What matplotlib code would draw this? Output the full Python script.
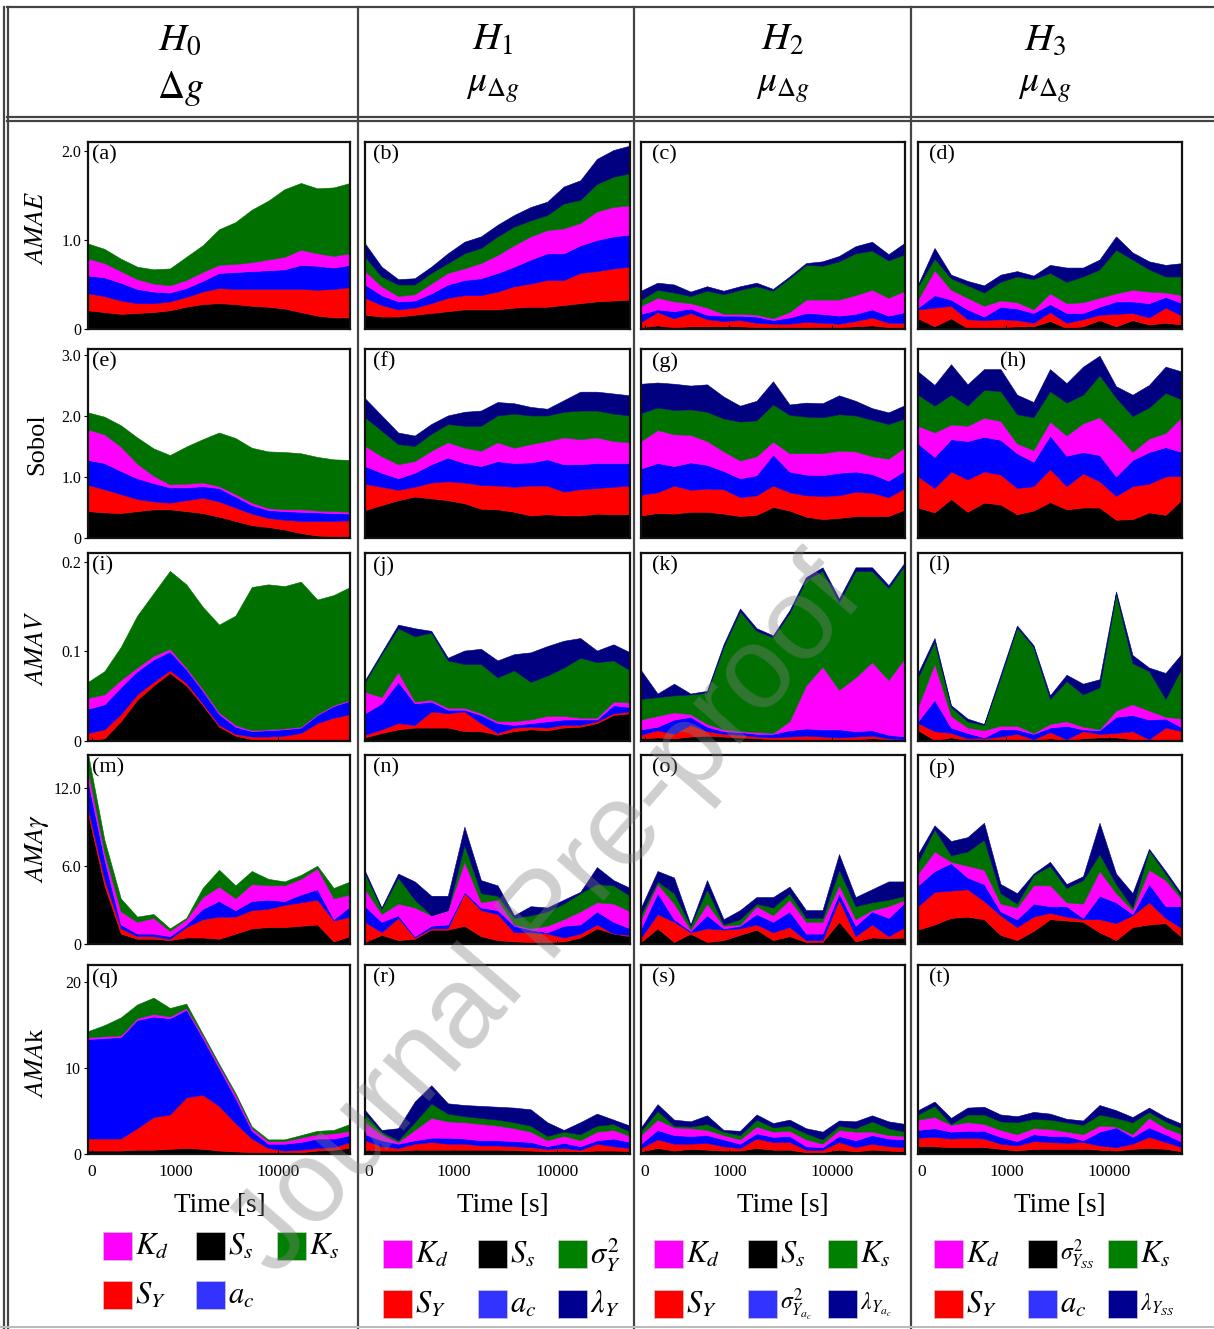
import numpy as np
import matplotlib
matplotlib.use("Agg")
import matplotlib.pyplot as plt
from matplotlib.patches import Rectangle
from matplotlib.lines import Line2D

plt.rcParams['mathtext.fontset'] = 'stix'
plt.rcParams['font.family'] = ['Liberation Serif', 'DejaVu Serif']

# ---------------- data (cumulative upper edge of each stacked layer) -------------
# layer order bottom -> top: Ss, SY, ac, Kd, Ks, lambda
steps = np.arange(17)
x_tick_labels = ['0', '1000', '10000']
x_tick_steps = [0.24, 5.36, 11.6]

a_edges = [[0.21,0.19,0.17,0.18,0.19,0.21,0.25,0.28,0.29,0.28,0.26,0.25,0.23,0.19,0.15,0.13,0.13],
           [0.40,0.37,0.32,0.29,0.29,0.31,0.36,0.42,0.46,0.45,0.45,0.45,0.45,0.45,0.44,0.45,0.47],
           [0.60,0.58,0.52,0.45,0.42,0.41,0.46,0.54,0.63,0.64,0.65,0.66,0.67,0.72,0.71,0.69,0.72],
           [0.79,0.74,0.65,0.56,0.51,0.49,0.55,0.64,0.72,0.73,0.75,0.78,0.81,0.89,0.85,0.82,0.85],
           [0.96,0.90,0.79,0.70,0.67,0.68,0.81,0.94,1.12,1.20,1.34,1.44,1.57,1.64,1.58,1.59,1.64]]
b_edges = [[0.16,0.14,0.14,0.16,0.18,0.20,0.22,0.22,0.22,0.24,0.25,0.25,0.27,0.29,0.31,0.32,0.33],
           [0.35,0.27,0.22,0.24,0.29,0.35,0.38,0.38,0.42,0.48,0.51,0.55,0.55,0.63,0.65,0.68,0.70],
           [0.50,0.38,0.31,0.32,0.40,0.50,0.55,0.57,0.63,0.70,0.78,0.85,0.85,0.94,1.00,1.04,1.06],
           [0.65,0.48,0.37,0.39,0.51,0.63,0.68,0.74,0.83,0.94,1.04,1.11,1.13,1.19,1.32,1.37,1.39],
           [0.81,0.59,0.50,0.50,0.63,0.74,0.85,0.91,1.04,1.15,1.22,1.28,1.41,1.45,1.63,1.71,1.75],
           [0.96,0.70,0.56,0.57,0.70,0.85,0.98,1.04,1.17,1.28,1.37,1.43,1.60,1.67,1.91,2.01,2.06]]
c_edges = [[0.02,0.04,0.02,0.03,0.03,0.03,0.03,0.02,0.02,0.02,0.02,0.02,0.02,0.03,0.04,0.02,0.02],
           [0.08,0.19,0.12,0.18,0.11,0.09,0.10,0.07,0.06,0.06,0.08,0.07,0.06,0.09,0.13,0.07,0.07],
           [0.17,0.22,0.20,0.23,0.16,0.15,0.15,0.14,0.10,0.13,0.18,0.17,0.15,0.17,0.22,0.15,0.19],
           [0.26,0.35,0.31,0.29,0.24,0.17,0.17,0.16,0.12,0.19,0.33,0.33,0.33,0.38,0.44,0.35,0.43],
           [0.33,0.44,0.41,0.37,0.43,0.39,0.44,0.48,0.43,0.57,0.72,0.71,0.76,0.85,0.88,0.77,0.84],
           [0.43,0.52,0.50,0.42,0.48,0.43,0.48,0.52,0.45,0.59,0.74,0.76,0.82,0.93,0.98,0.84,0.97]]
d_edges = [[0.12,0.03,0.12,0.01,0.01,0.02,0.03,0.03,0.09,0.01,0.03,0.10,0.03,0.10,0.05,0.07,0.05],
           [0.22,0.24,0.26,0.11,0.10,0.11,0.10,0.07,0.19,0.07,0.11,0.16,0.17,0.18,0.13,0.24,0.15],
           [0.24,0.38,0.33,0.22,0.14,0.25,0.23,0.18,0.28,0.18,0.18,0.25,0.31,0.31,0.29,0.36,0.29],
           [0.33,0.66,0.44,0.35,0.26,0.32,0.30,0.22,0.40,0.29,0.30,0.35,0.40,0.44,0.42,0.41,0.38],
           [0.48,0.79,0.57,0.49,0.41,0.53,0.59,0.56,0.63,0.53,0.59,0.67,0.89,0.78,0.67,0.59,0.59],
           [0.50,0.91,0.61,0.54,0.49,0.61,0.65,0.60,0.72,0.69,0.69,0.78,1.04,0.86,0.76,0.72,0.74]]
e_edges = [[0.44,0.42,0.41,0.44,0.47,0.47,0.44,0.41,0.35,0.28,0.21,0.18,0.14,0.08,0.04,0.03,0.03],
           [0.87,0.80,0.72,0.64,0.60,0.58,0.62,0.66,0.60,0.50,0.40,0.33,0.30,0.28,0.28,0.28,0.29],
           [1.28,1.23,1.10,0.98,0.90,0.83,0.83,0.85,0.82,0.68,0.54,0.46,0.44,0.43,0.42,0.41,0.40],
           [1.78,1.70,1.50,1.22,1.02,0.88,0.89,0.91,0.85,0.72,0.58,0.49,0.47,0.47,0.45,0.44,0.43],
           [2.06,1.99,1.85,1.65,1.47,1.36,1.50,1.62,1.73,1.64,1.48,1.42,1.41,1.39,1.33,1.29,1.28]]
f_edges = [[0.46,0.54,0.62,0.68,0.65,0.62,0.57,0.48,0.47,0.43,0.37,0.39,0.37,0.37,0.40,0.39,0.39],
           [0.89,0.84,0.79,0.84,0.91,0.93,0.91,0.87,0.86,0.84,0.86,0.86,0.76,0.80,0.82,0.84,0.86],
           [1.18,1.07,0.98,1.07,1.21,1.32,1.23,1.18,1.26,1.23,1.24,1.29,1.21,1.21,1.23,1.23,1.23],
           [1.51,1.34,1.21,1.26,1.43,1.57,1.48,1.43,1.57,1.48,1.54,1.59,1.65,1.62,1.65,1.59,1.57],
           [1.98,1.76,1.54,1.51,1.71,1.87,1.84,1.84,2.01,2.04,2.01,2.01,2.07,2.09,2.09,2.04,2.01],
           [2.29,2.01,1.73,1.68,1.87,2.01,2.07,2.09,2.23,2.21,2.15,2.12,2.26,2.40,2.40,2.37,2.34]]
g_edges = [[0.37,0.41,0.40,0.43,0.43,0.40,0.36,0.38,0.51,0.45,0.35,0.31,0.33,0.36,0.36,0.36,0.47],
           [0.71,0.75,0.86,0.79,0.81,0.80,0.67,0.70,0.86,0.75,0.70,0.69,0.70,0.76,0.74,0.67,0.82],
           [1.14,1.23,1.18,1.24,1.20,1.10,0.98,1.03,1.37,1.09,1.04,1.03,1.07,1.09,1.05,0.94,1.11],
           [1.59,1.77,1.70,1.69,1.59,1.42,1.27,1.34,1.58,1.39,1.39,1.39,1.43,1.42,1.34,1.30,1.49],
           [2.05,2.14,2.10,2.11,2.07,1.96,1.91,1.93,2.19,2.02,1.99,1.98,2.03,2.01,1.94,1.87,1.96],
           [2.53,2.55,2.53,2.50,2.52,2.32,2.17,2.25,2.57,2.19,2.22,2.21,2.34,2.25,2.13,2.06,2.18]]
h_edges = [[0.50,0.42,0.64,0.43,0.58,0.55,0.39,0.45,0.59,0.47,0.50,0.50,0.30,0.31,0.42,0.38,0.63],
           [1.01,0.82,1.09,0.96,1.09,1.04,0.82,0.85,1.13,0.85,1.06,0.93,0.69,0.85,0.89,1.01,1.02],
           [1.55,1.33,1.62,1.59,1.66,1.61,1.39,1.25,1.68,1.35,1.41,1.36,1.01,1.28,1.41,1.49,1.41],
           [1.84,1.73,1.86,1.84,1.97,1.92,1.55,1.44,1.91,1.68,1.88,1.98,1.71,1.41,1.63,1.72,1.99],
           [2.35,2.17,2.35,2.17,2.43,2.41,2.03,1.98,2.41,2.22,2.35,2.67,2.30,2.00,2.14,2.38,2.27],
           [2.73,2.51,2.85,2.52,2.77,2.77,2.35,2.23,2.77,2.54,2.81,2.99,2.49,2.35,2.51,2.81,2.73]]
i_edges = [[0.0,0.003,0.022,0.046,0.062,0.076,0.062,0.040,0.016,0.006,0.002,0.001,0.001,0.001,0.001,0.001,0.001],
           [0.009,0.013,0.030,0.052,0.066,0.079,0.065,0.042,0.018,0.008,0.005,0.005,0.006,0.009,0.020,0.026,0.030],
           [0.036,0.041,0.060,0.078,0.091,0.100,0.080,0.056,0.030,0.016,0.011,0.012,0.013,0.015,0.029,0.039,0.045],
           [0.048,0.052,0.068,0.082,0.095,0.103,0.082,0.058,0.032,0.018,0.012,0.013,0.014,0.016,0.030,0.040,0.046],
           [0.066,0.078,0.105,0.140,0.165,0.190,0.175,0.150,0.130,0.140,0.172,0.175,0.173,0.178,0.158,0.163,0.172]]
j_edges = [[0.004,0.009,0.013,0.015,0.015,0.015,0.011,0.011,0.007,0.011,0.013,0.012,0.015,0.016,0.020,0.029,0.031],
           [0.007,0.013,0.020,0.018,0.033,0.031,0.033,0.020,0.009,0.015,0.016,0.015,0.018,0.018,0.022,0.031,0.033],
           [0.031,0.042,0.066,0.042,0.044,0.035,0.035,0.029,0.020,0.018,0.020,0.022,0.024,0.024,0.024,0.040,0.038],
           [0.055,0.049,0.077,0.044,0.046,0.037,0.037,0.031,0.022,0.022,0.024,0.028,0.028,0.026,0.026,0.044,0.043],
           [0.066,0.097,0.126,0.117,0.121,0.090,0.086,0.086,0.071,0.079,0.066,0.073,0.082,0.093,0.088,0.090,0.079],
           [0.068,0.099,0.130,0.126,0.123,0.093,0.101,0.103,0.090,0.097,0.099,0.106,0.112,0.115,0.101,0.108,0.099]]
k_edges = [[0.003,0.004,0.003,0.005,0.006,0.005,0.004,0.003,0.002,0.002,0.002,0.002,0.002,0.002,0.003,0.002,0.001],
           [0.007,0.012,0.008,0.018,0.011,0.008,0.007,0.005,0.004,0.005,0.006,0.005,0.004,0.005,0.006,0.003,0.002],
           [0.013,0.016,0.024,0.027,0.016,0.011,0.010,0.008,0.008,0.012,0.014,0.013,0.013,0.011,0.012,0.007,0.005],
           [0.024,0.028,0.032,0.030,0.019,0.013,0.011,0.010,0.009,0.022,0.062,0.083,0.057,0.071,0.088,0.068,0.093],
           [0.047,0.049,0.051,0.052,0.054,0.105,0.145,0.123,0.116,0.143,0.180,0.190,0.155,0.190,0.190,0.171,0.197],
           [0.079,0.053,0.064,0.053,0.056,0.108,0.148,0.126,0.118,0.146,0.183,0.194,0.159,0.194,0.194,0.174,0.200]]
l_edges = [[0.012,0.001,0.004,0.001,0.001,0.002,0.002,0.001,0.003,0.001,0.003,0.004,0.004,0.002,0.001,0.002,0.002],
           [0.020,0.011,0.009,0.003,0.003,0.005,0.008,0.002,0.010,0.002,0.011,0.008,0.009,0.011,0.002,0.015,0.011],
           [0.022,0.046,0.015,0.009,0.004,0.013,0.013,0.008,0.015,0.017,0.013,0.012,0.027,0.029,0.024,0.025,0.015],
           [0.038,0.086,0.028,0.015,0.012,0.017,0.017,0.009,0.019,0.022,0.016,0.013,0.034,0.041,0.034,0.027,0.025],
           [0.071,0.111,0.038,0.022,0.018,0.071,0.127,0.105,0.047,0.067,0.052,0.060,0.165,0.087,0.078,0.047,0.082],
           [0.076,0.115,0.040,0.025,0.019,0.074,0.129,0.107,0.051,0.074,0.064,0.069,0.167,0.096,0.082,0.076,0.098]]
m_edges = [[10.0,4.5,0.8,0.4,0.4,0.3,0.5,0.5,0.4,0.8,1.2,1.3,1.3,1.4,1.5,0.2,0.6],
           [10.4,5.0,1.2,0.6,0.6,0.4,1.3,1.9,2.1,2.1,2.6,2.7,3.0,3.2,3.4,1.8,2.1],
           [12.5,6.5,1.5,0.8,0.8,0.6,1.5,2.7,3.3,2.6,3.3,3.4,3.3,3.8,4.2,1.9,2.9],
           [13.3,7.0,2.5,1.7,2.0,1.0,1.9,3.6,4.4,3.5,4.6,4.5,4.5,5.0,5.8,3.5,3.8],
           [14.6,8.0,3.5,2.1,2.3,1.2,2.0,4.3,5.7,4.5,5.6,5.0,4.8,5.3,6.0,4.3,4.8]]
n_edges = [[0.15,0.7,0.3,0.4,1.1,1.1,1.4,0.6,0.3,0.2,0.15,0.15,0.2,0.5,1.2,0.8,0.6],
           [1.7,0.9,2.0,0.5,1.2,1.2,3.9,2.6,2.3,0.9,0.9,0.8,0.5,0.8,1.5,0.8,0.7],
           [2.9,1.7,2.2,0.6,1.4,1.5,4.0,2.8,2.6,1.4,1.1,0.9,1.4,1.5,2.5,1.7,1.2],
           [4.2,2.3,3.1,2.8,2.2,2.6,6.3,3.2,3.4,1.5,1.2,1.4,1.9,2.5,3.2,3.1,2.5],
           [5.4,2.7,5.1,3.4,2.2,2.6,7.6,3.9,3.7,2.0,2.2,2.5,3.1,3.9,4.6,4.5,3.7],
           [5.6,2.8,5.4,4.8,3.7,3.7,9.0,4.9,4.5,2.2,2.9,2.8,3.4,4.0,5.9,4.9,4.3]]
o_edges = [[0.15,1.2,0.15,0.8,0.15,0.3,0.7,1.1,0.3,0.6,0.15,0.15,1.7,0.2,0.5,0.45,0.5],
           [0.5,2.3,1.7,0.9,1.2,1.1,1.2,1.5,0.9,1.3,0.3,0.3,3.4,0.6,1.5,0.6,1.3],
           [1.2,3.9,1.9,1.0,2.2,1.2,1.4,2.3,1.7,2.5,0.8,0.8,3.9,1.4,2.5,2.0,3.2],
           [1.9,4.6,3.1,1.1,3.1,1.4,1.5,2.9,2.2,3.4,1.7,1.7,4.5,1.9,2.6,2.9,3.4],
           [2.3,4.8,3.9,1.4,4.2,1.5,1.9,3.1,2.8,3.9,2.0,2.0,5.7,2.9,3.2,3.4,3.7],
           [2.8,5.6,5.1,1.5,4.9,1.9,2.6,3.6,3.6,4.4,2.6,2.6,6.9,3.6,4.2,4.8,4.8]]
p_edges = [[1.1,1.5,2.0,2.1,1.9,0.7,0.3,1.0,1.9,1.8,1.7,0.9,0.3,1.3,1.5,1.6,0.5],
           [2.9,4.0,4.1,4.2,3.3,2.2,1.3,2.1,2.4,2.1,1.9,1.9,1.6,2.2,3.2,2.0,1.2],
           [4.5,5.6,6.2,5.1,4.6,2.5,1.9,3.1,2.9,2.9,2.0,3.7,3.2,2.3,4.6,2.9,2.9],
           [5.4,7.1,6.3,6.0,5.7,3.1,2.8,4.5,4.5,3.2,3.1,5.6,3.9,2.6,5.7,4.9,3.4],
           [6.3,8.8,6.8,7.1,8.0,3.9,3.1,5.3,6.0,4.3,4.9,6.9,4.6,2.8,7.2,5.4,3.6],
           [6.9,9.1,7.9,8.2,9.3,4.6,3.9,5.4,6.3,4.6,5.2,9.3,5.4,3.9,7.3,5.6,3.8]]
q_edges = [[0.4,0.4,0.4,0.5,0.5,0.6,0.7,0.6,0.4,0.3,0.2,0.1,0.1,0.2,0.4,0.5,0.7],
           [1.8,1.8,1.8,3.0,4.3,4.6,6.6,6.9,5.6,3.6,1.8,0.7,0.4,0.5,0.7,0.8,1.4],
           [13.4,13.5,13.6,15.6,16.0,15.8,16.8,13.5,10.0,6.5,2.7,1.2,1.2,1.4,1.8,1.8,2.2],
           [13.6,13.7,13.8,15.8,16.3,16.0,17.0,13.8,10.3,6.9,3.0,1.5,1.5,1.9,2.3,2.4,2.7],
           [14.3,15.0,15.9,17.4,18.2,17.0,17.5,14.0,10.5,7.1,3.2,1.7,1.7,2.2,2.7,2.8,3.5]]
r_edges = [[0.5,0.4,0.4,0.5,0.5,0.5,0.5,0.5,0.5,0.45,0.4,0.3,0.35,0.3,0.4,0.4,0.35],
           [1.6,0.9,0.7,1.2,1.4,1.2,1.2,1.0,1.0,0.9,0.8,0.6,0.7,0.5,1.2,0.9,0.7],
           [2.3,1.6,1.2,1.6,1.9,1.9,1.8,1.6,1.6,1.5,1.4,0.9,1.3,0.9,1.6,1.8,1.4],
           [3.7,2.3,1.4,2.8,4.2,3.8,3.7,3.5,3.3,3.0,2.6,1.6,2.1,1.6,2.6,2.8,2.1],
           [4.7,2.6,1.6,3.7,5.9,4.7,4.4,4.2,4.0,3.7,3.3,2.1,2.6,2.3,3.3,3.5,2.6],
           [5.1,2.8,3.0,6.1,8.0,5.9,5.7,5.6,5.5,5.4,5.2,3.7,2.8,3.7,4.7,4.0,3.3]]
s_edges = [[0.3,0.7,0.4,0.6,0.5,0.4,0.4,0.7,0.5,0.5,0.2,0.2,0.5,0.3,0.5,0.4,0.3],
           [0.7,1.7,1.2,1.2,1.3,0.9,0.7,1.8,1.4,1.4,0.5,0.5,1.4,0.8,1.2,0.9,0.8],
           [1.2,2.8,2.2,2.1,2.2,1.7,1.2,2.4,2.0,2.1,0.9,0.8,2.1,1.6,2.2,1.8,1.7],
           [2.2,4.0,3.1,3.0,2.8,2.2,1.7,3.2,2.6,2.7,1.7,1.2,2.8,2.6,2.6,2.2,2.1],
           [2.7,5.0,3.3,3.2,3.5,2.6,2.2,4.0,3.1,3.3,2.4,1.7,3.3,3.0,3.8,3.0,2.6],
           [3.1,5.8,4.0,3.8,4.5,2.8,2.7,4.6,3.6,4.0,3.0,2.6,3.9,3.8,4.5,3.8,3.5]]
t_edges = [[0.9,0.9,0.8,0.8,0.8,0.6,0.4,0.6,0.6,0.6,0.6,0.5,0.4,0.6,0.7,0.6,0.3],
           [1.9,2.0,1.8,1.9,1.8,1.2,1.0,1.5,1.4,1.3,1.4,1.0,0.8,1.2,2.0,1.4,0.8],
           [2.8,3.0,2.6,2.7,2.7,2.0,1.5,2.3,2.1,2.1,1.6,2.6,3.1,2.0,3.1,2.3,1.4],
           [4.0,4.3,3.4,3.7,3.5,2.8,2.3,3.0,2.9,2.6,2.3,3.3,3.2,2.3,4.2,3.0,2.3],
           [4.6,5.6,3.5,4.6,4.6,3.8,3.7,4.1,4.0,3.7,3.4,4.6,4.2,3.7,4.9,3.8,3.0],
           [5.1,6.1,4.2,5.4,5.5,4.6,4.4,4.9,4.7,4.1,3.9,5.7,5.1,4.3,5.4,4.3,3.5]]

panel_letters = list('abcdefghijklmnopqrst')
row_ymax = [2.1, 3.1, 0.21, 14.5, 22.0]
row_yticks = [[0, 1.0, 2.0], [0, 1.0, 2.0, 3.0], [0, 0.1, 0.2], [0, 6.0, 12.0], [0, 10, 20]]
row_yticklabels = [['0', '1.0', '2.0'], ['0', '1.0', '2.0', '3.0'], ['0', '0.1', '0.2'],
                   ['0', '6.0', '12.0'], ['0', '10', '20']]
row_labels = [r'$AMAE$', 'Sobol', r'$AMAV$', r'$AMA\gamma$', r'$AMA$k']
head_top = [r'$H_0$', r'$H_1$', r'$H_2$', r'$H_3$']
head_bot = [r'$\Delta g$', r'$\mu_{\Delta g}$', r'$\mu_{\Delta g}$', r'$\mu_{\Delta g}$']
layer_colors = ['#000000', '#FF0000', '#0000FF', '#FF00FF', '#007000', '#000080']

legend_labels = [
    [r'$K_d$', r'$S_s$', r'$K_s$', r'$S_Y$', r'$a_c$'],
    [r'$K_d$', r'$S_s$', r'$\sigma^2_Y$', r'$S_Y$', r'$a_c$', r'$\lambda_Y$'],
    [r'$K_d$', r'$S_s$', r'$K_s$', r'$S_Y$', r'$\sigma^2_{Y_{a_c}}$', r'$\lambda_{Y_{a_c}}$'],
    [r'$K_d$', r'$\sigma^2_{Y_{SS}}$', r'$K_s$', r'$S_Y$', r'$a_c$', r'$\lambda_{Y_{SS}}$'],
]
legend_colors = [
    ['#FF00FF', '#000000', '#008000', '#FF0000', '#3333FF'],
    ['#FF00FF', '#000000', '#008000', '#FF0000', '#3333FF', '#000090'],
    ['#FF00FF', '#000000', '#008000', '#FF0000', '#3333FF', '#000090'],
    ['#FF00FF', '#000000', '#008000', '#FF0000', '#3333FF', '#000090'],
]

all_edges = [a_edges, b_edges, c_edges, d_edges, e_edges, f_edges, g_edges, h_edges,
             i_edges, j_edges, k_edges, l_edges, m_edges, n_edges, o_edges, p_edges,
             q_edges, r_edges, s_edges, t_edges]

# ---------------- layout ----------------
W, H = 1214, 1329
fig = plt.figure(figsize=(W / 100, H / 100), dpi=100)

cols_px = [(88, 350), (365, 630), (641, 905), (918, 1182)]
rows_px = [(142, 329), (349, 538), (553, 741), (755, 944), (965, 1154)]
letter_x = [0.015, 0.03, 0.04, 0.04]


def fx(px):
    return px / W


def fy(py):
    return 1 - py / H


for r, (t, b) in enumerate(rows_px):
    for c, (l, rr) in enumerate(cols_px):
        idx = r * 4 + c
        ax = fig.add_axes([fx(l), fy(b), (rr - l) / W, (b - t) / H])
        prev = np.zeros(len(steps))
        for k, top in enumerate(all_edges[idx]):
            top = np.maximum(np.array(top, dtype=float), prev)
            ax.fill_between(steps, prev, top, color=layer_colors[k],
                            linewidth=0.4, edgecolor=layer_colors[k])
            prev = top
        ax.set_xlim(0, 16)
        ax.set_ylim(0, row_ymax[r])
        for sp in ax.spines.values():
            sp.set_linewidth(1.6)
            sp.set_color('#111111')
        ax.set_xticks(x_tick_steps)
        if r == 4:
            ax.set_xticklabels(x_tick_labels, fontsize=12.5)
            ax.tick_params(axis='x', direction='in', length=3, pad=7)
        else:
            ax.set_xticklabels([])
            ax.tick_params(axis='x', direction='in', length=3)
        if c == 0:
            ax.set_yticks(row_yticks[r])
            ax.set_yticklabels(row_yticklabels[r], fontsize=11.5)
            ax.tick_params(axis='y', direction='out', length=3, pad=2)
        else:
            ax.set_yticks([])
        lx = 0.31 if panel_letters[idx] == 'h' else letter_x[c]
        ax.text(lx, 0.985, '(%s)' % panel_letters[idx], transform=ax.transAxes,
                ha='left', va='top', fontsize=16)

# row labels
row_label_y = [228, 444, 648, 848, 1063]
for lab, yy in zip(row_labels, row_label_y):
    fig.text(fx(37), fy(yy), lab, rotation=90, fontsize=19, ha='center', va='center')

# headers
head_x = [180, 493, 783, 1045]
for hx, ht, hb in zip(head_x, head_top, head_bot):
    fig.text(fx(hx), fy(40), ht, fontsize=28, ha='center', va='center')
    fig.text(fx(hx), fy(88), hb, fontsize=27, ha='center', va='center')

# Time labels
time_x = [220, 503, 783, 1060]
for tx in time_x:
    fig.text(fx(tx), fy(1206), 'Time [s]', fontsize=19.5, ha='center', va='center')

# legends
sw_x = [[103, 196, 277], [383, 478, 558], [654, 748, 828], [934, 1028, 1108]]
sw_y = [[1232, 1281], [1240, 1290], [1240, 1290], [1240, 1290]]
for c in range(4):
    for n, (lab, colr) in enumerate(zip(legend_labels[c], legend_colors[c])):
        row, col = divmod(n, 3)
        x0 = sw_x[c][col]
        y0 = sw_y[c][row]
        fig.patches.append(Rectangle((fx(x0), fy(y0 + 28)), 29 / W, 28 / H,
                                     transform=fig.transFigure, facecolor=colr,
                                     edgecolor='#cccccc', linewidth=0.5))
        fsz = 17 if ('sigma' in lab or 'lambda' in lab) and '{Y_' in lab else 22
        fig.text(fx(x0 + 32), fy(y0 + 15), lab, fontsize=fsz, ha='left', va='center')

# table frame lines
line_kw = dict(color='#444444', linewidth=1.6, transform=fig.transFigure)
fig.lines.append(Line2D([fx(7), 1], [fy(7), fy(7)], **line_kw))
fig.lines.append(Line2D([fx(7), 1], [fy(117), fy(117)], **line_kw))
fig.lines.append(Line2D([fx(7), 1], [fy(121), fy(121)], **line_kw))
fig.lines.append(Line2D([fx(4), fx(4)], [fy(7), 0], **line_kw))
fig.lines.append(Line2D([fx(8), fx(8)], [fy(7), 0], **line_kw))
for vx in [358, 634, 911]:
    fig.lines.append(Line2D([fx(vx), fx(vx)], [fy(7), 0], **line_kw))
fig.lines.append(Line2D([0, 1], [fy(1327), fy(1327)], color='#bbbbbb', linewidth=1.5,
                        transform=fig.transFigure))

# watermark
fig.text(fx(548), fy(918), 'Journal Pre-proof', rotation=49, fontsize=84,
         color='#808080', alpha=0.38, ha='center', va='center',
         family='Liberation Sans', zorder=10)

fig.savefig('out.png', dpi=100)
